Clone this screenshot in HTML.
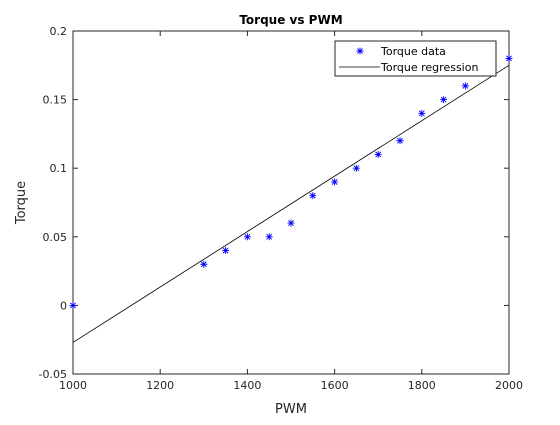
<!DOCTYPE html>
<html><head><meta charset="utf-8"><style>
body{margin:0;background:#fff;}
svg{font-family:"DejaVu Sans","Liberation Sans",sans-serif;}
</style></head><body>
<svg id="chart" width="560" height="420" xmlns="http://www.w3.org/2000/svg">
<rect width="560" height="420" fill="#fff"/>
<g id="g"></g>
</svg>
<script>
const pwm = [1000,1300,1350,1400,1450,1500,1550,1600,1650,1700,1750,1800,1850,1900,2000];
const torque = [0,0.03,0.04,0.05,0.05,0.06,0.08,0.09,0.1,0.11,0.12,0.14,0.15,0.16,0.18];
const regX = [1000,2000];
const regY = [-0.027,0.175];
const xTicks = [1000,1200,1400,1600,1800,2000];
const yTicks = [-0.05,0,0.05,0.1,0.15,0.2];
const yLabels = ['-0.05','0','0.05','0.1','0.15','0.2'];
const L=73,R=509,T=31,B=374;
const sx=v=>L+(v-1000)/1000*(R-L);
const sy=v=>B-(v+0.05)/0.25*(B-T);
const g=document.getElementById('g');
const NS='http://www.w3.org/2000/svg';
function mk(t,a,txt){const e=document.createElementNS(NS,t);for(const k in a)e.setAttribute(k,a[k]);if(txt!==undefined)e.textContent=txt;g.appendChild(e);return e;}
let e=mk('rect',{x:L,y:T,width:R-L,height:B-T,fill:'#fff',stroke:'#262626','stroke-width':1});


xTicks.forEach(t=>{const x=sx(t);
 mk('line',{x1:x,x2:x,y1:B,y2:B-5,stroke:'#262626'});
 mk('line',{x1:x,x2:x,y1:T,y2:T+5,stroke:'#262626'});
 e=mk('text',{x:x,y:B+15,'text-anchor':'middle','font-size':11,fill:'#262626'},String(t));
 
 
});
yTicks.forEach((t,i)=>{const y=sy(t);
 mk('line',{x1:L,x2:L+5,y1:y,y2:y,stroke:'#262626'});
 mk('line',{x1:R,x2:R-5,y1:y,y2:y,stroke:'#262626'});
 e=mk('text',{x:L-6,y:y+4,'text-anchor':'end','font-size':11,fill:'#262626'},yLabels[i]);
 
 
});
e=mk('line',{x1:sx(regX[0]),y1:sy(regY[0]),x2:sx(regX[1]),y2:sy(regY[1]),stroke:'#000','stroke-width':0.8});


function star(x,y){const s=3.5;let p=`M${x-s} ${y}H${x+s}M${x} ${y-s}V${y+s}M${x-2.6} ${y-2.6}L${x+2.6} ${y+2.6}M${x-2.6} ${y+2.6}L${x+2.6} ${y-2.6}`;
 return mk('path',{d:p,stroke:'#0000ff','stroke-width':0.9,fill:'none'});}
pwm.forEach((p,i)=>{e=star(sx(p),sy(torque[i]));
 
 
});
e=mk('text',{x:(L+R)/2,y:24,'text-anchor':'middle','font-size':12,'font-weight':'bold',fill:'#000'},'Torque vs PWM');


e=mk('text',{x:(L+R)/2,y:413,'text-anchor':'middle','font-size':13,fill:'#262626'},'PWM');


e=mk('text',{x:0,y:0,'text-anchor':'middle','font-size':13,fill:'#262626',transform:`translate(25,${(T+B)/2}) rotate(-90)`},'Torque');


e=mk('rect',{x:335,y:41,width:161,height:35,fill:'#fff',stroke:'#262626','stroke-width':1});


e=star(360,51);


e=mk('text',{x:381,y:55,'font-size':11,fill:'#000'},'Torque data');


mk('line',{x1:339,x2:380,y1:67,y2:67,stroke:'#000','stroke-width':0.8});
e=mk('text',{x:381,y:71,'font-size':11,fill:'#000'},'Torque regression');


</script>
</body></html>
